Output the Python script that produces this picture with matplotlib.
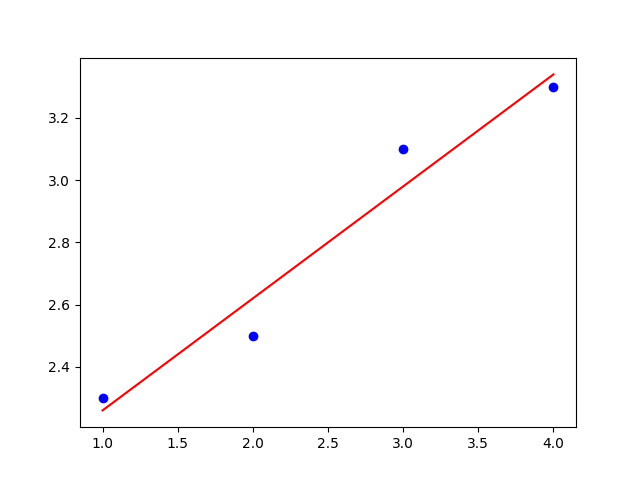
import numpy as np
import matplotlib
matplotlib.use("Agg")
import matplotlib.pyplot as plt

x = np.array([1, 2, 3, 4])
y = np.array([2.3, 2.5, 3.1, 3.3])

# least squares line through the points
slope, intercept = np.polyfit(x, y, 1)
fit_y = slope * x + intercept

fig, ax = plt.subplots(figsize=(6.4, 4.8), dpi=100)
ax.scatter(x, y, color='blue')
ax.plot(x, fit_y, color='red')

plt.savefig("out.png")
plt.close()
